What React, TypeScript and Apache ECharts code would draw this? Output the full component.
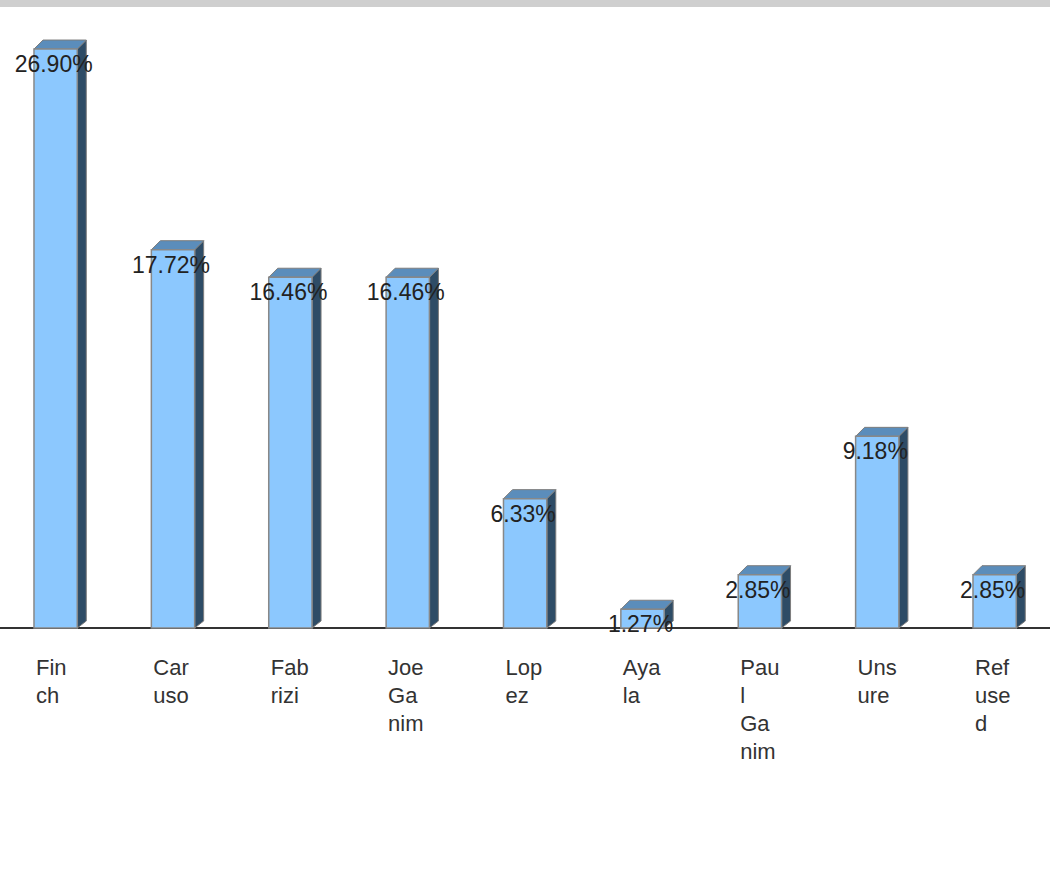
import React, { useEffect, useRef } from "react";
import * as echarts from "echarts";

const categories = ["Finch", "Caruso", "Fabrizi", "Joe Ganim", "Lopez", "Ayala", "Paul Ganim", "Unsure", "Refused"];
const tickLabels = ["Fin\nch", "Car\nuso", "Fab\nrizi", "Joe\nGa\nnim", "Lop\nez", "Aya\nla", "Pau\nl\nGa\nnim", "Uns\nure", "Ref\nuse\nd"];
const shares = [26.9, 17.72, 16.46, 16.46, 6.33, 1.27, 2.85, 9.18, 2.85];

const FONT = '"Liberation Sans", Arial, sans-serif';
const BAND = 117.375;
const GRID_W = BAND * categories.length;

export default function App() {
  const ref = useRef<HTMLDivElement>(null);
  useEffect(() => {
    if (!ref.current) return;
    const chart = echarts.init(ref.current, null, { renderer: "svg" });
    const option: any = {
      animation: false,
      backgroundColor: "#ffffff",
      graphic: [
        { type: "rect", left: 0, top: 0, shape: { x: 0, y: 0, width: 1050, height: 7 }, style: { fill: "#cfcfcf" }, silent: true },
      ],
      grid: [
        { left: 0, top: 16, width: GRID_W, height: 612, outerBoundsMode: "none", containLabel: false },
        { left: -22.7, top: 16, width: GRID_W, height: 612, outerBoundsMode: "none", containLabel: false },
      ],
      xAxis: [
        {
          type: "category",
          gridIndex: 0,
          data: categories,
          axisLine: { show: true, lineStyle: { color: "#333333", width: 2 } },
          axisTick: { show: false },
          axisLabel: { show: false },
          splitLine: { show: false },
        },
        {
          type: "category",
          gridIndex: 1,
          data: tickLabels,
          axisLine: { show: false },
          axisTick: { show: false },
          splitLine: { show: false },
          axisLabel: {
            show: true,
            interval: 0,
            align: "left",
            margin: 25,
            fontSize: 22,
            lineHeight: 28,
            fontFamily: FONT,
            color: "#333333",
          },
        },
      ],
      yAxis: [
        { type: "value", gridIndex: 0, min: 0, max: 28, show: false, splitLine: { show: false } },
        { type: "value", gridIndex: 1, min: 0, max: 28, show: false, splitLine: { show: false } },
      ],
      series: [
        {
          type: "custom",
          xAxisIndex: 0,
          yAxisIndex: 0,
          data: shares.map((v, i) => [i, v]),
          renderItem: (params: any, api: any) => {
            const i = api.value(0);
            const v = api.value(1);
            const p = api.coord([i, v]);
            const cx = p[0];
            const yb = p[1];
            const y0 = api.coord([i, 0])[1];
            const d = 9;
            const fw = 43.3;
            const fl = cx - 24.7;
            const fr = fl + fw;
            const ft = yb + d;
            return {
              type: "group",
              children: [
                {
                  type: "polygon",
                  shape: { points: [[fr, ft], [fr + d, yb], [fr + d, y0 - 7], [fr, y0]] },
                  style: { fill: "#2e4c66", stroke: "#7d7d7d", lineWidth: 1 },
                },
                {
                  type: "polygon",
                  shape: { points: [[fl, ft], [fl + d, yb], [fr + d, yb], [fr, ft]] },
                  style: { fill: "#5b8dbb", stroke: "#7d7d7d", lineWidth: 1 },
                },
                {
                  type: "rect",
                  shape: { x: fl, y: ft, width: fw, height: y0 - ft },
                  style: { fill: "#8cc8fe", stroke: "#888888", lineWidth: 1.5 },
                },
                {
                  type: "text",
                  style: {
                    text: v.toFixed(2) + "%",
                    x: fl + fw / 2 - 2,
                    y: ft + 15,
                    align: "center",
                    verticalAlign: "middle",
                    fontSize: 23,
                    fontFamily: FONT,
                    fill: "#222222",
                  },
                },
              ],
            };
          },
        },
      ],
    };
    chart.setOption(option);
    return () => chart.dispose();
  }, []);
  return (
    <div
      ref={ref}
      style={{ position: "absolute", left: 0, top: 0, width: 1050, height: 892 }}
    />
  );
}
